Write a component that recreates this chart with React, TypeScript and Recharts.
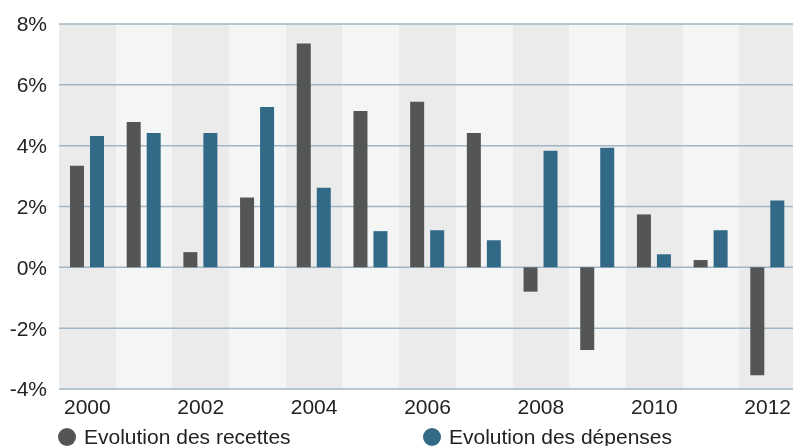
import React from 'react';
import { BarChart, Bar, XAxis, YAxis, CartesianGrid, Legend } from 'recharts';

// Annual growth rates (%), 2000–2012
const years = ['2000', '2001', '2002', '2003', '2004', '2005', '2006', '2007', '2008', '2009', '2010', '2011', '2012'];
const recettes = [3.34, 4.78, 0.5, 2.3, 7.36, 5.14, 5.44, 4.42, -0.8, -2.72, 1.74, 0.24, -3.55];
const depenses = [4.32, 4.42, 4.42, 5.27, 2.62, 1.19, 1.22, 0.89, 3.83, 3.93, 0.43, 1.22, 2.2];
const yTicks = [-4, -2, 0, 2, 4, 6, 8];

const series = [
  { key: 'recettes', name: 'Evolution des recettes', color: '#545655' },
  { key: 'depenses', name: 'Evolution des dépenses', color: '#326987' },
];

const data = years.map((year, i) => ({ year, recettes: recettes[i], depenses: depenses[i] }));

const FONT = '"Liberation Sans", Arial, sans-serif';
const TEXT = '#222222';

// Band boundaries of the category axis, used for the alternating column shading
const bandEdges = ({ offset, width }: any) => {
  const left = offset.left;
  const plotWidth = typeof offset.width === 'number' ? offset.width : width - offset.left - offset.right;
  return years.map((_, i) => left + (i * plotWidth) / years.length);
};

// Column shading only, without drawing vertical lines
const NoLine = () => <g />;

const LegendContent = () => (
  <div style={{ height: 27, boxSizing: 'border-box', paddingTop: 9, display: 'flex', fontFamily: FONT }}>
    {series.map((s) => (
      <div key={s.key} style={{ width: 365, display: 'flex', alignItems: 'center', height: 18, paddingLeft: 50, boxSizing: 'border-box' }}>
        <span style={{ width: 18, height: 18, borderRadius: 9, background: s.color, display: 'inline-block', flex: 'none' }} />
        <span style={{ marginLeft: 8, fontSize: 21, color: TEXT, whiteSpace: 'nowrap', lineHeight: '18px' }}>{s.name}</span>
      </div>
    ))}
  </div>
);

export default function App() {
  return (
    <div style={{ position: 'fixed', top: 8, left: 8, width: 785, height: 438, overflow: 'hidden' }}>
      <BarChart
        width={800}
        height={438}
        data={data}
        margin={{ top: 16, right: 12, bottom: 0, left: 0 }}
        barSize={14}
        barGap={6}
      >
        <CartesianGrid
          vertical={NoLine as any}
          stroke="#a0b6c5"
          strokeWidth={1.5}
          fillOpacity={1}
          verticalFill={['#ebebeb', '#f4f5f5']}
          verticalCoordinatesGenerator={bandEdges}
        />
        <XAxis
          dataKey="year"
          interval={1}
          height={30}
          axisLine={false}
          tickLine={false}
          tickSize={0}
          tickMargin={10}
          tick={{ fontFamily: FONT, fontSize: 21, fill: TEXT }}
        />
        <YAxis
          width={51}
          domain={[-4, 8]}
          ticks={yTicks}
          interval={0}
          axisLine={false}
          tickLine={false}
          tickSize={0}
          tickMargin={12}
          tickFormatter={(v: number) => `${v}%`}
          tick={{ fontFamily: FONT, fontSize: 21, fill: TEXT }}
        />
        <Legend verticalAlign="bottom" align="left" content={<LegendContent />} />
        {series.map((s) => (
          <Bar key={s.key} dataKey={s.key} name={s.name} fill={s.color} isAnimationActive={false} />
        ))}
      </BarChart>
    </div>
  );
}
